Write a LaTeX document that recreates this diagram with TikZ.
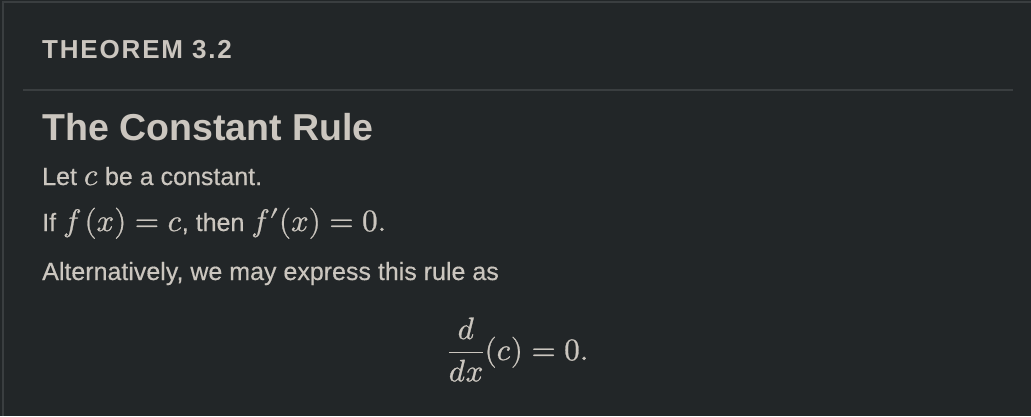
\documentclass[tikz,border=0pt]{standalone}
\usepackage{amsmath}
\usepackage{fontspec}
\usepackage{unicode-math}
\setmainfont{Liberation Sans}
\setmathfont[FakeBold=0.8]{Latin Modern Math}
\newfontfamily\capsfont[LetterSpace=7]{Liberation Sans}
\newfontfamily\bodyfont[FakeBold=0.4]{Liberation Sans}
\definecolor{bg}{HTML}{222628}
\definecolor{bd}{HTML}{3A3E40}
\definecolor{tx}{HTML}{CBC6BF}
\newcommand\mth[1]{{\fontsize{31}{34}\selectfont$#1$}}
\begin{document}
\begin{tikzpicture}[x=1pt,y=-1pt,
  txt/.style={anchor=base west, inner sep=0pt, text=tx, font=\bodyfont\fontsize{25}{30}\selectfont}]
\fill[bg] (0,0) rectangle (1031,416);
\useasboundingbox (0,0) rectangle (1031,416);
\draw[bd, line width=2pt] (3,416) -- (3,2) -- (1031,2);
\draw[bd, line width=2pt] (23,90) -- (1013,90);
\node[txt, font=\capsfont\bfseries\fontsize{26}{30}\selectfont] (label) at (42,58) {THEOREM 3.2};
\node[txt, font=\normalfont\bfseries\fontsize{37.5}{44}\selectfont] (title) at (42,140) {The Constant Rule};
\node[txt] (l1) at (42,185) {Let \mth{c} be a constant.};
\node[txt] (l2) at (42,231) {If \mth{f\mkern2mu(x) = c}, then \mth{f\prime(x) = 0.}};
\node[txt] (l3) at (42,280) {Alternatively, we may express this rule as};
\node[anchor=base, inner sep=0pt, text=tx, font=\fontsize{31}{34}\selectfont] (eq) at (518,360) {$\displaystyle \frac{d}{dx}(c) = 0.$};
\end{tikzpicture}
\end{document}
